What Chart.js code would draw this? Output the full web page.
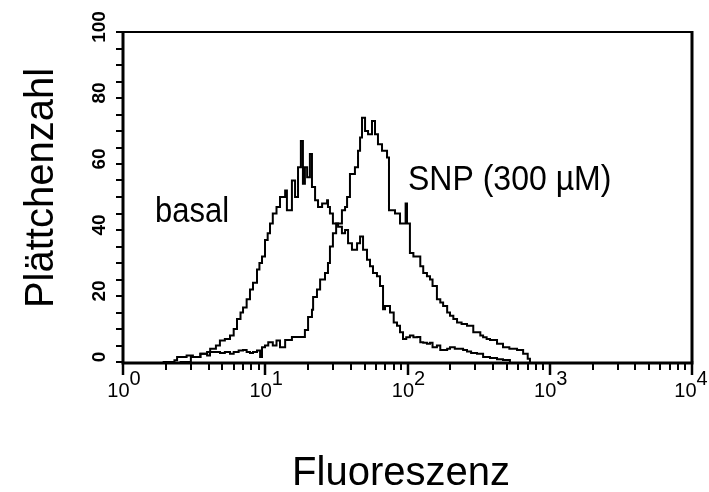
<!DOCTYPE html>
<html><head><meta charset="utf-8">
<script src="https://cdn.jsdelivr.net/npm/chart.js@4/dist/chart.umd.min.js"></script>
<style>html,body{margin:0;padding:0;background:#fff;}canvas{display:block;}</style>
</head><body>
<canvas id="c" width="709" height="492"></canvas>
<script>
const basalX = [1.9,2.3,2.4,2.8,3.1,3.5,3.9,4.1,4.5,4.8,5.2,5.65,6.0,6.33,6.7,6.98,7.4,7.81,8.2,8.75,9.1,9.49,9.96,10.4,10.8,11.3,12.0,12.7,13.8,14.2,15.4,16.2,17.0,17.8,18.4,19.0,19.7,20.6,21.3,22.4,23.5,25.1,27.2,27.6,28.5,29.9,32.5,34.6,36.4,38.2,40.7,44.2,46.4,48.7,51.9,54.5,57.2,61.0,64.1,67.3,69.5,75.3,80,84.4,88.6,93,98,104,110,117,123,129,137,144,150,161,170,178,190,199,215,230,246,262,280,308,340,380,426,469,525];
const basalY = [0,0.5,1.5,2,1.5,2.5,3,4,5,6.5,7,8,10,13,15,16.5,19,22,24,28,30,32,37,39,42,45,47,50,52,46,55,50,59,67,54,59,56,63,53,49,47,48,49,47,45,42,41,39,40,36,34,36,38,34,31,29,27,26,23,16,17,15,12,11,9,7,7.5,8,7.5,7.6,6,5.8,5.5,5.8,4.5,5,3.6,3.6,4,4.5,4,4,3.6,3.2,2.7,2.5,1.5,1.2,0.8,0.6,0];
const snpX = [2.5,3.0,3.5,3.9,4.09,4.5,4.81,5.2,5.65,6.0,6.5,6.98,7.4,7.81,8.2,8.75,9.2,9.49,9.96,10.5,11.3,12.0,12.7,13.8,15.4,17.5,19.0,20.0,21.3,21.7,23.1,24.3,26.3,27.6,28.5,29.9,31.5,34.6,36.4,37.6,39.4,42.7,44.9,46.4,47.9,50.3,52.8,56.3,59.1,62.0,66.2,71.8,74.1,81.7,88.6,93,97,99.2,104,110,117,123,129,137,144,150,161,170,178,190,199,210,223,240,262,275,290,308,325,340,360,380,426,469,520,589,650,700,726];
const snpY = [0,1.5,2.5,2,3,3,2.7,3,2.5,3,3.5,3.6,3,2.7,3,3.5,1.5,4.5,5,6,5,6.5,4.5,6.7,7.6,7.6,9.7,13.6,15.8,19.7,22,25,27,30,35,39,42,46,47,50,57,59,64,68,74,70,69,73,69,66,64,62,46,45,42,42,48,42,33,32,32,29,27,26,25,23,19,18,17,15,14,13,12,11.5,11,11,9,9,8,7.5,7,6.7,5.5,4.5,4,3.6,2.5,1,0];
const xTickValues = [1,10,100,1000,10000];
const xTickBase = '10';
const xTickExponents = ['0','1','2','3','4'];
const yTickValues = [0,20,40,60,80,100];
const yTickLabels = ['0','20','40','60','80','100'];
const xTitle = 'Fluoreszenz';
const yTitle = 'Plättchenzahl';
const seriesNames = ['basal','SNP (300 µM)'];

const FONT = '"Liberation Sans", Arial, Helvetica, sans-serif';
const toPts = (xs, ys) => xs.map((x, i) => ({x: x, y: ys[i]}));

const decor = {
  id: 'decor',
  afterDatasetsDraw(chart) {
    const ctx = chart.ctx, xs = chart.scales.x, ys = chart.scales.y;
    const a = chart.chartArea;
    ctx.save();
    ctx.strokeStyle = '#000'; ctx.fillStyle = '#000'; ctx.lineCap = 'butt';
    // frame
    ctx.lineWidth = 2;
    ctx.beginPath(); ctx.moveTo(a.left, a.top); ctx.lineTo(a.right, a.top); ctx.stroke();
    ctx.lineWidth = 3;
    ctx.beginPath(); ctx.moveTo(a.right, a.top - 1); ctx.lineTo(a.right, a.bottom); ctx.stroke();
    ctx.beginPath(); ctx.moveTo(a.left, a.top - 1); ctx.lineTo(a.left, a.bottom + 1); ctx.lineTo(a.right + 1.5, a.bottom + 1); ctx.stroke();
    // y ticks every 5
    ctx.lineWidth = 2;
    for (let v = 0; v <= 100; v += 5) {
      const y = Math.round(ys.getPixelForValue(v));
      ctx.beginPath(); ctx.moveTo(a.left - 7, y); ctx.lineTo(a.left, y); ctx.stroke();
    }
    // x ticks (log)
    for (let d = 0; d < xTickValues.length; d++) {
      const base = xTickValues[d];
      const px = Math.round(xs.getPixelForValue(base));
      ctx.lineWidth = 2.5;
      ctx.beginPath(); ctx.moveTo(px, a.bottom); ctx.lineTo(px, a.bottom + 13); ctx.stroke();
      if (d < xTickValues.length - 1) {
        ctx.lineWidth = 2;
        for (let m = 2; m <= 9; m++) {
          const p = Math.round(xs.getPixelForValue(base * m));
          ctx.beginPath(); ctx.moveTo(p, a.bottom); ctx.lineTo(p, a.bottom + 8); ctx.stroke();
        }
      }
    }
    // x tick labels 10^n
    ctx.textBaseline = 'alphabetic'; ctx.textAlign = 'left';
    ctx.font = '20px ' + FONT;
    for (let d = 0; d < xTickValues.length; d++) {
      const px = xs.getPixelForValue(xTickValues[d]);
      const wb = ctx.measureText(xTickBase).width;
      const we = ctx.measureText(xTickExponents[d]).width;
      const x0 = px - (wb + we) / 2 - (d === xTickValues.length - 1 ? 1 : -1);
      ctx.fillText(xTickBase, x0, 397);
      ctx.fillText(xTickExponents[d], x0 + wb, 385);
    }
    // y tick labels rotated
    ctx.font = 'bold 19px ' + FONT; ctx.textAlign = 'center';
    for (let i = 0; i < yTickValues.length; i++) {
      const y = ys.getPixelForValue(yTickValues[i]);
      ctx.save(); ctx.translate(105, y - 5); ctx.rotate(-Math.PI / 2);
      ctx.fillText(yTickLabels[i], 0, 0); ctx.restore();
    }
    // axis titles
    ctx.font = '40px ' + FONT; ctx.textAlign = 'center';
    ctx.fillText(xTitle, 401, 485);
    ctx.save(); ctx.translate(53, 188); ctx.rotate(-Math.PI / 2);
    ctx.fillText(yTitle, 0, 0); ctx.restore();
    // series annotations
    ctx.textAlign = 'left';
    ctx.save(); ctx.translate(155, 222); ctx.scale(1, 1.12);
    ctx.font = '31px ' + FONT; ctx.fillText(seriesNames[0], 0, 0); ctx.restore();
    ctx.save(); ctx.translate(408, 190); ctx.scale(1, 1.08);
    ctx.font = '32px ' + FONT; ctx.fillText(seriesNames[1], 0, 0); ctx.restore();
    ctx.restore();
  }
};

new Chart(document.getElementById('c'), {
  type: 'line',
  data: {
    datasets: [
      {label: seriesNames[0], data: toPts(basalX, basalY), borderColor: '#000', borderWidth: 2, pointRadius: 0, stepped: true, fill: false},
      {label: seriesNames[1], data: toPts(snpX, snpY), borderColor: '#000', borderWidth: 2, pointRadius: 0, stepped: true, fill: false}
    ]
  },
  options: {
    responsive: false, animation: false, devicePixelRatio: 1,
    layout: {padding: {top: 32, right: 17, left: 0, bottom: 0}},
    plugins: {legend: {display: false}, tooltip: {enabled: false}},
    scales: {
      x: {type: 'logarithmic', min: 1, max: 10000, ticks: {display: false}, grid: {display: false}, border: {display: false},
          afterFit: s => { s.height = 130; }},
      y: {type: 'linear', min: 0, max: 100, ticks: {display: false}, grid: {display: false}, border: {display: false},
          afterFit: s => { s.width = 123; }}
    }
  },
  plugins: [decor]
});
</script>
</body></html>
